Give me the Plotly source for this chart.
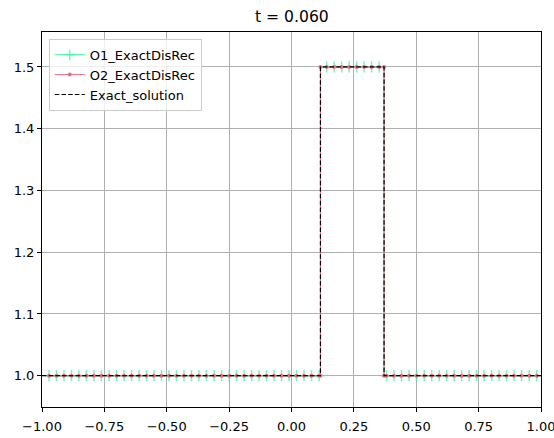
import plotly.graph_objects as go

# ---- data ----
x_cells = [-0.972, -0.942, -0.912, -0.882, -0.852, -0.822, -0.792, -0.762, -0.731, -0.701,
           -0.671, -0.641, -0.611, -0.581, -0.551, -0.521, -0.491, -0.461, -0.431, -0.401,
           -0.371, -0.341, -0.310, -0.280, -0.250, -0.220, -0.190, -0.160, -0.130, -0.100,
           -0.070, -0.040, -0.010, 0.020, 0.050, 0.080, 0.111, 0.141, 0.171, 0.201,
           0.231, 0.261, 0.291, 0.321, 0.351, 0.381, 0.411, 0.441, 0.471, 0.501,
           0.532, 0.562, 0.592, 0.622, 0.652, 0.682, 0.712, 0.742, 0.772, 0.802,
           0.832, 0.862, 0.892, 0.922, 0.953, 0.983]
o1_values = [1.0] * 37 + [1.5] * 8 + [1.0] * 21
o2_values = [1.0] * 37 + [1.5] * 8 + [1.0] * 21
# discontinuity locations (left jump up, right jump down)
disc_left = 0.116
disc_right = 0.371
low_level = 1.0
high_level = 1.5

x_tickvals = [-1.0, -0.75, -0.5, -0.25, 0.0, 0.25, 0.5, 0.75, 1.0]
x_ticktext = ["\u22121.00", "\u22120.75", "\u22120.50", "\u22120.25", "0.00", "0.25", "0.50", "0.75", "1.00"]
y_tickvals = [1.0, 1.1, 1.2, 1.3, 1.4, 1.5]
y_ticktext = ["1.0", "1.1", "1.2", "1.3", "1.4", "1.5"]
title_text = "t = 0.060"

FONT = "DejaVu Sans"
GREEN = "#3cf5a2"
PINK = "#ec6b84"


def with_jumps(xs, ys):
    """Insert the exact discontinuity points into a reconstruction."""
    out_x, out_y, is_cell = [], [], []
    for i, (xv, yv) in enumerate(zip(xs, ys)):
        if i > 0:
            prev = ys[i - 1]
            if prev != yv:
                xd = disc_left if yv > prev else disc_right
                out_x += [xd, xd]
                out_y += [prev, yv]
                is_cell += [False, False]
        out_x.append(xv)
        out_y.append(yv)
        is_cell.append(True)
    return out_x, out_y, is_cell


o1_x, o1_y, o1_cell = with_jumps(x_cells, o1_values)
o2_x, o2_y, o2_cell = with_jumps(x_cells, o2_values)
exact_x = [-1.0, disc_left, disc_left, disc_right, disc_right, 1.0]
exact_y = [low_level, low_level, high_level, high_level, low_level, low_level]

fig = go.Figure()
fig.add_trace(go.Scatter(
    x=o1_x, y=o1_y, name="O1_ExactDisRec", mode="lines+markers",
    line=dict(color=GREEN, width=1),
    marker=dict(symbol="cross-thin", size=[8 if c else 0 for c in o1_cell],
                line=dict(color=GREEN, width=1.5), color=GREEN),
))
fig.add_trace(go.Scatter(
    x=o2_x, y=o2_y, name="O2_ExactDisRec", mode="lines+markers",
    line=dict(color=PINK, width=1),
    marker=dict(symbol="circle", size=4, color=PINK),
))
fig.add_trace(go.Scatter(
    x=exact_x, y=exact_y, name="Exact_solution", mode="lines",
    line=dict(color="black", width=1.2, dash="4.5px,2.2px"),
))

axis_common = dict(
    showline=True, mirror=True, linecolor="black", linewidth=1,
    ticks="outside", ticklen=4, tickwidth=1, tickcolor="black",
    showgrid=True, gridcolor="#b0b0b0", gridwidth=1, zeroline=False,
    automargin=False, ticklabeloverflow="allow",
    tickfont=dict(family=FONT, size=13, color="black"),
)

fig.update_layout(
    width=554, height=438,
    margin=dict(l=42, r=13, t=32, b=31, autoexpand=False),
    paper_bgcolor="white", plot_bgcolor="white",
    font=dict(family=FONT, size=13, color="black"),
    showlegend=True,
    legend=dict(
        x=0.0136, y=0.982, xanchor="left", yanchor="top",
        bgcolor="rgba(255,255,255,0.8)", bordercolor="#cccccc", borderwidth=1,
        font=dict(family=FONT, size=13, color="black"),
    ),
    xaxis=dict(range=[-1.0000001, 1.0000001], tickvals=x_tickvals, ticktext=x_ticktext,
               ticklabelstandoff=3, **axis_common),
    yaxis=dict(range=[0.9493, 1.5566], tickvals=y_tickvals, ticktext=y_ticktext, **axis_common),
    annotations=[dict(
        text=title_text, xref="paper", yref="paper", x=0.5, y=1.0,
        xanchor="center", yanchor="bottom", yshift=4, showarrow=False,
        font=dict(family=FONT, size=15.6, color="black"),
    )],
)

fig.write_html("out.html")
